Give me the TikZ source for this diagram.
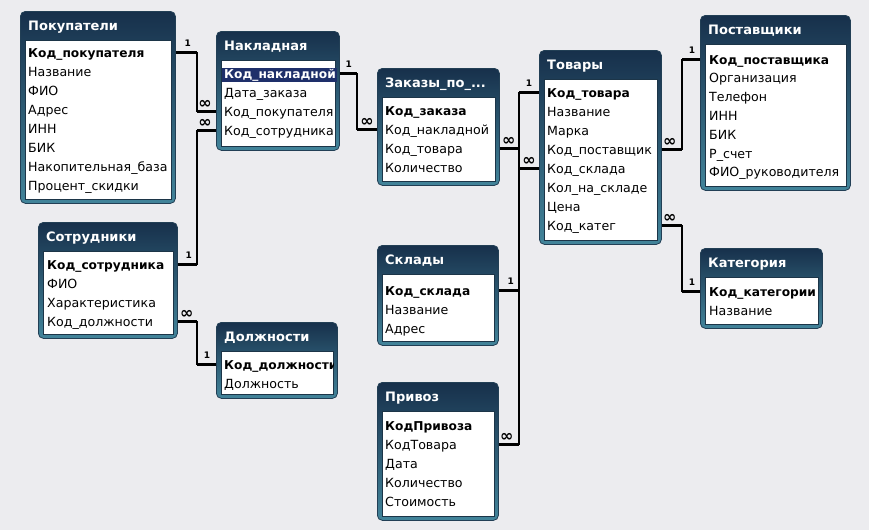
\documentclass[tikz,border=0pt]{standalone}
\usepackage{fontspec}
\setmainfont{DejaVu Sans}
\definecolor{bg}{HTML}{ECECEF}
\definecolor{frametop}{HTML}{17304B}
\definecolor{framebot}{HTML}{42849A}
\definecolor{frameline}{HTML}{223F55}
\definecolor{bodyline}{HTML}{1C3548}
\definecolor{selblue}{HTML}{1E2F6A}
\tikzset{
 frame/.style={draw=frameline, line width=0.8pt, rounded corners=5pt, top color=frametop, bottom color=framebot, inner sep=0pt, anchor=north west},
 body/.style={draw=bodyline, line width=0.7pt, fill=white, inner sep=0pt, anchor=north west},
 ttl/.style={font=\bfseries\fontsize{13}{15}\selectfont, text=white, anchor=west, inner sep=0pt},
 fld/.style={font=\fontsize{12.6}{14}\selectfont, anchor=west, inner sep=0pt, text height=9pt, text depth=3pt},
 keyextra/.style={},
 keyf/.style={fld, font=\bfseries\fontsize{12.2}{14}\selectfont, keyextra},
 relthin/.style={line width=1.3pt},
 relthick/.style={line width=3pt},
 one/.style={font=\bfseries\fontsize{9}{10}\selectfont, inner sep=0pt},
 many/.style={font=\bfseries\fontsize{16}{16}\selectfont, inner sep=0pt},
}
% name, x1, y1, x2, y2, title
\newcommand\tbl[6]{%
 \node[frame, minimum width={(#4-#2)*1pt}, minimum height={(#5-#3)*1pt}] (#1) at (#2,#3) {};
 \node[body, minimum width={(#4-#2-9)*1pt}, minimum height={(#5-#3-33)*1pt}] (#1-b) at ({#2+5},{#3+29}) {};
 \node[ttl] (#1-t) at ({#2+8},{#3+16}) {#6};
}
% name, x, y0, step, key, others
\newcommand\rws[6]{%
 \begin{scope}
 \clip (#1-b.north west) rectangle (#1-b.south east);
 \node[keyf] (#1-1) at (#2,#3) {#5};
 \foreach \t [count=\i from 2] in {#6} {\node[fld] (#1-\i) at ({#2},{#3+(\i-1)*#4}) {\t};}
 \end{scope}
}
% start, x-coordinate name, end
\newcommand\rel[3]{%
 \draw[relthin] (#1) -- (#1 -| #2) -- (#3 -| #2) -- (#3);
 \draw[relthick] (#1) -- (#1 -| #2);
 \draw[relthick] (#3) -- (#3 -| #2);
}
\begin{document}
\begin{tikzpicture}[x=1pt,y=-1pt]
\fill[bg] (0,0) rectangle (869,530);
\useasboundingbox (0,0) rectangle (869,530);

\tbl{pok}{20}{11}{175}{203}{Покупатели}
\rws{pok}{28}{54}{19}{Код\_покупателя}{Название,ФИО,Адрес,ИНН,БИК,Накопительная\_база,Процент\_скидки}

\tbl{nak}{216}{31}{339}{150}{Накладная}
\node[fill=selblue, minimum width=115pt, minimum height=14pt, inner sep=0pt, anchor=west] (nak-sel) at (222,75) {};
\begin{scope}
\tikzset{keyextra/.style={text=white}}
\rws{nak}{224}{75}{19}{Код\_накладной}{Дата\_заказа,Код\_покупателя,Код\_сотрудника}
\end{scope}

\tbl{zak}{377}{68}{499}{185}{Заказы\_по\_...}
\rws{zak}{385}{112}{19}{Код\_заказа}{Код\_накладной,Код\_товара,Количество}

\tbl{tov}{539}{50}{661}{244}{Товары}
\rws{tov}{547}{94}{19}{Код\_товара}{Название,Марка,Код\_поставщик,Код\_склада,Кол\_на\_складе,Цена,Код\_катег}

\tbl{pos}{700}{15}{850}{190}{Поставщики}
\rws{pos}{709}{61}{18.8}{Код\_поставщика}{Организация,Телефон,ИНН,БИК,Р\_счет,ФИО\_руководителя}

\tbl{kat}{700}{248}{822}{328}{Категория}
\rws{kat}{709}{293}{19}{Код\_категории}{Название}

\tbl{sot}{38}{222}{177}{338}{Сотрудники}
\rws{sot}{47}{266}{19}{Код\_сотрудника}{ФИО,Характеристика,Код\_должности}

\tbl{dol}{216}{322}{337}{398}{Должности}
\rws{dol}{224}{366}{19}{Код\_должности}{Должность}

\tbl{skl}{377}{245}{498}{345}{Склады}
\rws{skl}{385}{292}{19}{Код\_склада}{Название,Адрес}

\tbl{pri}{377}{382}{498}{520}{Привоз}
\rws{pri}{385}{427}{19}{КодПривоза}{КодТовара,Дата,Количество,Стоимость}

% vertical runs
\coordinate (xa) at (197,0);
\coordinate (xb) at (357,0);
\coordinate (xc) at (519,0);
\coordinate (xd) at (682,0);

% endpoints
\coordinate (e1) at ([yshift=1.5pt]pok.east |- pok-1);
\coordinate (f1) at ([yshift=1.5pt]nak.west |- nak-3);
\coordinate (e2) at ([yshift=1.5pt]sot.east |- sot-1);
\coordinate (f2) at ([yshift=1.5pt]nak.west |- nak-4);
\coordinate (e3) at ([yshift=1.5pt]nak.east |- nak-1);
\coordinate (f3) at ([yshift=1.5pt]zak.west |- zak-2);
\coordinate (e4) at ([yshift=1.5pt]tov.west |- tov-1);
\coordinate (f4) at ([yshift=1.5pt]zak.east |- zak-3);
\coordinate (e5) at ([yshift=1.5pt]skl.east |- skl-1);
\coordinate (f5) at ([yshift=1.5pt]tov.west |- tov-5);
\coordinate (f6) at ([yshift=1.5pt]pri.east |- pri-2);
\coordinate (f7) at ([yshift=1.5pt]tov.east |- tov-4);
\coordinate (e7) at ([yshift=1.5pt]pos.west |- pos-1);
\coordinate (f8) at ([yshift=1.5pt]tov.east |- tov-8);
\coordinate (e8) at ([yshift=1.5pt]kat.west |- kat-1);
\coordinate (f9) at ([yshift=1.5pt]sot.east |- sot-4);
\coordinate (e9) at ([yshift=1.5pt]dol.west |- dol-1);

\rel{e1}{xa}{f1}
\rel{e2}{xa}{f2}
\rel{e3}{xb}{f3}
\rel{e4}{xc}{f4}
\rel{e5}{xc}{f5}
\rel{f6}{xc}{e4}
\rel{f7}{xd}{e7}
\rel{f8}{xd}{e8}
\rel{f9}{xa}{e9}

% cardinality labels
\node[one] (l1) at ([xshift=12pt,yshift=9pt]e1) {1};
\node[many] (m1) at ([xshift=-11pt,yshift=7pt]f1) {∞};
\node[one] (l2) at ([xshift=11pt,yshift=9pt]e2) {1};
\node[many] (m2) at ([xshift=-11pt,yshift=7pt]f2) {∞};
\node[one] (l3) at ([xshift=9pt,yshift=9pt]e3) {1};
\node[many] (m3) at ([xshift=-10pt,yshift=7pt]f3) {∞};
\node[one] (l4) at ([xshift=-10pt,yshift=9pt]e4) {1};
\node[many] (m4) at ([xshift=9pt,yshift=7pt]f4) {∞};
\node[one] (l5) at ([xshift=12pt,yshift=9pt]e5) {1};
\node[many] (m5) at ([xshift=-10pt,yshift=7pt]f5) {∞};
\node[many] (m6) at ([xshift=8pt,yshift=7pt]f6) {∞};
\node[many] (m7) at ([xshift=8pt,yshift=7pt]f7) {∞};
\node[one] (l7) at ([xshift=-8pt,yshift=9pt]e7) {1};
\node[many] (m8) at ([xshift=8pt,yshift=7pt]f8) {∞};
\node[one] (l8) at ([xshift=-8pt,yshift=9pt]e8) {1};
\node[many] (m9) at ([xshift=9pt,yshift=7pt]f9) {∞};
\node[one] (l9) at ([xshift=-9pt,yshift=9pt]e9) {1};
\end{tikzpicture}
\end{document}
